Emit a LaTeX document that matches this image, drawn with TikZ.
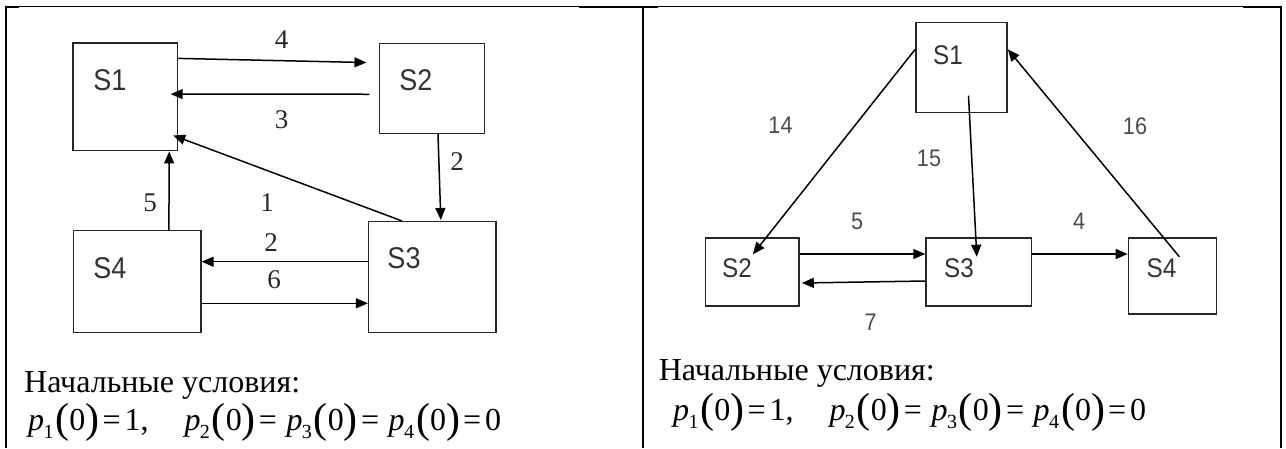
\documentclass[tikz,border=0pt]{standalone}
\usepackage{fontspec}
\newfontfamily\tms{Liberation Serif}
\newfontfamily\lblfont[FakeStretch=0.9]{Liberation Sans}
\usetikzlibrary{arrows.meta,calc}
\newcommand{\pz}[1]{\textit{p}\kern-0.02em\raisebox{-0.28em}{\fontsize{20}{20}\selectfont #1}\kern0.06em\raisebox{-0.08em}{\fontsize{42}{42}\selectfont(}0\raisebox{-0.08em}{\fontsize{42}{42}\selectfont)}}
\newcommand{\condline}{\pz{1}\kern0.1em=\kern0.12em1,\hspace{36pt}\pz{2}\kern0.1em=\kern0.3em\pz{3}\kern0.1em=\kern0.3em\pz{4}\kern0.1em=\kern0.12em0}
\begin{document}
\begin{tikzpicture}[x=1pt,y=-1pt,
  box/.style={draw=black!85, line width=1.5pt, inner sep=0pt},
  arr/.style={line width=1.5pt, draw=black, -{Triangle[length=12pt,width=10pt]}},
  sname/.style={font=\lblfont\fontsize{30}{30}\selectfont, text=black!80, inner sep=0pt},
  snamer/.style={font=\lblfont\fontsize{27}{27}\selectfont, text=black!80, inner sep=0pt},
  wl/.style={font=\tms\fontsize{27}{27}\selectfont, text=black!85, inner sep=0pt},
  wlr/.style={font=\lblfont\fontsize{24}{24}\selectfont, text=black!70, inner sep=0pt},
  cond/.style={font=\tms\fontsize{32}{36}\selectfont, anchor=base west, inner sep=0pt},
  frame/.style={line width=2pt, draw=black},
  thin/.style={line width=1pt, draw=black}]
\useasboundingbox (0,0) rectangle (1286,448);
% table frame
\draw[thin] (6,6.5) -- (1282,6.5);
\draw[frame] (6,6.5) -- (19,6.5);
\draw[frame] (579,6.5) -- (658,6.5);
\draw[frame] (1243,6.5) -- (1282,6.5);
\draw[frame] (6,5.5) -- (6,448);
\draw[frame] (643.3,6.5) -- (643.3,448);
\draw[frame] (1281,5.5) -- (1281,448);

% ---------- left diagram ----------
\node[box, minimum width=104.5pt, minimum height=107.5pt] (L1) at (125.2,96.9) {};
\node[box, minimum width=105pt, minimum height=90pt] (L2) at (432,88.3) {};
\node[box, minimum width=127.3pt, minimum height=110.6pt] (L3) at (432.3,277) {};
\node[box, minimum width=127.3pt, minimum height=101.6pt] (L4) at (137.2,281.5) {};
\node[sname] (L1t) at (110,80) {S1};
\node[sname] (L2t) at (416,80) {S2};
\node[sname] (L3t) at (404,258) {S3};
\node[sname] (L4t) at (110,268) {S4};

\draw[arr] ([shift={(0,16)}]L1.north east) -- ([shift={(-12.3,20)}]L2.north west);
\draw[arr] ([shift={(-9.4,51.7)}]L2.north west) -- ([shift={(-7.5,51.7)}]L1.north east);
\draw[arr] ([shift={(6,0)}]L2.south) -- ([shift={(8.5,-1)}]L3.north);
\draw[arr] ([shift={(-30.3,0)}]L3.north) -- ([shift={(-5,93)}]L1.north east);
\draw[arr] ([shift={(31.7,0)}]L4.north) -- ([shift={(-9,0)}]L1.south east);
\draw[arr] ([shift={(0,-15.3)}]L3.west) -- ([shift={(0,-19.8)}]L4.east);
\draw[arr] ([shift={(0,21.8)}]L4.east) -- ([shift={(0,26.3)}]L3.west);

\node[wl] (w4) at (281.6,40) {4};
\node[wl] (w3) at (281.6,120) {3};
\node[wl] (w2a) at (457,162) {2};
\node[wl] (w1) at (267,203) {1};
\node[wl] (w5) at (150,203) {5};
\node[wl] (w2b) at (271,243) {2};
\node[wl] (w6) at (274,280) {6};

\node[cond] (c1) at (24,392) {Начальные условия:};
\node[cond] (f1) at (28,430) {\condline};

% ---------- right diagram ----------
\node[box, minimum width=91pt, minimum height=90.4pt] (R1) at (961.5,67.5) {};
\node[box, minimum width=93.7pt, minimum height=68.3pt] (R2) at (752.2,271.9) {};
\node[box, minimum width=105.3pt, minimum height=68.3pt] (R3) at (978.7,271.9) {};
\node[box, minimum width=88pt, minimum height=76.3pt] (R4) at (1172.4,275.9) {};
\node[snamer] (R1t) at (948,55) {S1};
\node[snamer] (R2t) at (737,268) {S2};
\node[snamer] (R3t) at (959,268) {S3};
\node[snamer] (R4t) at (1161.5,268) {S4};

\draw[arr] ([shift={(0,27.7)}]R1.north west) -- ([shift={(48.3,17.3)}]R2.north west);
\draw[arr] ([shift={(7,28.2)}]R1.center) -- ([shift={(-1.9,-15.2)}]R3.center);
\draw[arr] ([shift={(6.9,-19.2)}]R4.center) -- ([shift={(0,27.7)}]R1.north east);
\draw[arr] ([shift={(0,-17.9)}]R2.east) -- ([shift={(0,-17.9)}]R3.west);
\draw[arr] ([shift={(0,9.1)}]R3.west) -- ([shift={(2,11.1)}]R2.east);
\draw[arr] ([shift={(0,-17.9)}]R3.east) -- ([shift={(0,-21.9)}]R4.west);

\node[wlr] (v14) at (780.5,125) {14};
\node[wlr] (v15) at (929,158) {15};
\node[wlr] (v16) at (1135,126) {16};
\node[wlr] (v5) at (857,221) {5};
\node[wlr] (v4) at (1079,221) {4};
\node[wlr] (v7) at (870.6,322.7) {7};

\node[cond] (c2) at (658.6,380) {Начальные условия:};
\node[cond] (f2) at (673,420) {\condline};
\end{tikzpicture}
\end{document}
